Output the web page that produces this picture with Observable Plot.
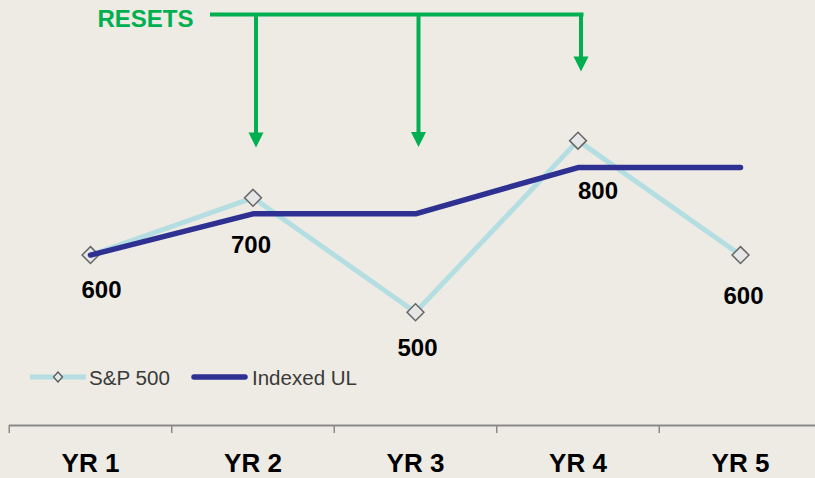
<!DOCTYPE html>
<html>
<head>
<meta charset="utf-8">
<script src="https://cdn.jsdelivr.net/npm/d3@7"></script>
<script src="https://cdn.jsdelivr.net/npm/@observablehq/plot@0.6"></script>
<style>
  body { margin: 0; background: #eeebe4; }
  #wrap { position: relative; width: 815px; height: 478px; background: #eeebe4; overflow: hidden; font-family: "Liberation Sans", Arial, sans-serif; }
  #legend { position: absolute; left: 0; top: 0; }
</style>
</head>
<body>
<div id="wrap"></div>
<script>
// ---- data ----
const years = [1, 2, 3, 4, 5];
const tickLabels = ["YR 1", "YR 2", "YR 3", "YR 4", "YR 5"];
const sp500 = [600, 700, 500, 800, 600];
const indexedUL = [600, 672, 672, 753, 753];
const valueLabels = ["600", "700", "500", "800", "600"];
const resetYears = [2, 3, 4];
const resetArrowTips = [788, 789, 921];
const resetsTop = 1020.5;
const resetsStart = 1.726;
const seriesNames = ["S&P 500", "Indexed UL"];

// ---- styles ----
const lightBlue = "#b4dee2";
const darkBlue = "#2e3192";
const green = "#00b050";
const labelDx = [11, -2, 2, 20, 3];
const labelDy = [35, 47, 36, 51, 41];

const spData = years.map((x, i) => ({x, v: sp500[i]}));
const ulData = years.map((x, i) => ({x, v: indexedUL[i]}));
const arrows = resetYears.map((x, i) => ({x, tip: resetArrowTips[i]}));

const labelMarks = years.map((x, i) => Plot.text([{x, v: sp500[i], t: valueLabels[i]}], {
  x: "x", y: "v", text: "t", dx: labelDx[i], dy: labelDy[i],
  fontSize: 24, fontWeight: "bold", fill: "#000"
}));

const chart = Plot.plot({
  width: 815,
  height: 478,
  marginTop: 0,
  marginBottom: 53,
  marginLeft: 9,
  marginRight: 0,
  style: {background: "transparent", fontFamily: "'Liberation Sans', Arial, sans-serif"},
  x: {domain: [0.5, 5.5], range: [8.75, 821.25], label: null},
  y: {domain: [302, 1045], axis: null, label: null},
  marks: [
    Plot.ruleY([302], {stroke: "#8a8a8a", strokeWidth: 2}),
    Plot.axisX({ticks: [0.5, 1.5, 2.5, 3.5, 4.5], tickSize: 8, tickFormat: () => "", label: null, stroke: "#8a8a8a", strokeWidth: 1.5}),
    Plot.axisX({ticks: years, tickSize: 0, tickPadding: 28, label: null, tickFormat: d => tickLabels[d - 1],
      fontSize: 26, fontWeight: "bold", fill: "#000"}),
    // S&P 500
    Plot.line(spData, {x: "x", y: "v", stroke: lightBlue, strokeWidth: 5, strokeLinejoin: "round"}),
    Plot.dot(spData, {x: "x", y: "v", symbol: "diamond2", r: 7.6, fill: "#e6e6e6", stroke: "#666", strokeWidth: 1.5}),
    // Indexed UL
    Plot.line(ulData, {x: "x", y: "v", stroke: darkBlue, strokeWidth: 5.5, strokeLinecap: "round", strokeLinejoin: "round"}),
    ...labelMarks,
    // RESETS annotation
    Plot.ruleY([resetsTop], {x1: resetsStart, x2: resetYears[resetYears.length - 1], dx: 4, stroke: green, strokeWidth: 4, strokeLinecap: "square"}),
    Plot.ruleX(arrows, {x: "x", y1: resetsTop, y2: "tip", dx: 3, stroke: green, strokeWidth: 4, insetBottom: 10}),
    Plot.vector(arrows, {x: "x", y: "tip", dx: 3, shape: "spike", anchor: "end", length: 15, r: 7.5, rotate: 180, fill: green, stroke: "none"}),
    Plot.text(["RESETS"], {x: resetsStart, y: resetsTop, text: d => d, textAnchor: "end", dx: -15, dy: 5,
      fontSize: 24, fontWeight: "bold", fill: green})
  ]
});

const wrap = document.getElementById("wrap");
wrap.appendChild(chart);

// ---- legend (inside plot area) ----
const ns = "http://www.w3.org/2000/svg";
const lg = document.createElementNS(ns, "svg");
lg.setAttribute("id", "legend");
lg.setAttribute("width", 815);
lg.setAttribute("height", 478);
lg.innerHTML = `
  <line x1="30" y1="377" x2="86" y2="377" stroke="${lightBlue}" stroke-width="5"/>
  <path d="M58,372 L62.5,377 L58,382 L53.5,377 Z" fill="#e6e6e6" stroke="#555" stroke-width="1.2"/>
  <text x="89" y="385" font-size="20" fill="#3a3a3a" font-family="Liberation Sans, Arial, sans-serif" textLength="81" lengthAdjust="spacingAndGlyphs">${seriesNames[0]}</text>
  <line x1="194" y1="377" x2="245" y2="377" stroke="${darkBlue}" stroke-width="5.5" stroke-linecap="round"/>
  <text x="252" y="385" font-size="20" fill="#3a3a3a" font-family="Liberation Sans, Arial, sans-serif" textLength="105" lengthAdjust="spacingAndGlyphs">${seriesNames[1]}</text>
`;
wrap.appendChild(lg);
</script>
</body>
</html>
